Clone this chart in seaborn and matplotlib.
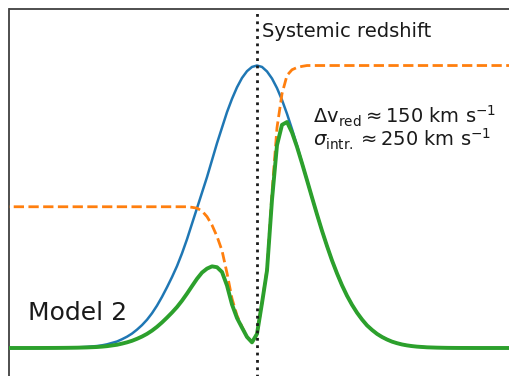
import matplotlib
matplotlib.use("Agg")
import matplotlib.pyplot as plt
import seaborn as sns
import pandas as pd

# velocity grid (km/s) relative to systemic redshift
velocity = [-1400, -1350, -1300, -1250, -1200, -1150, -1100, -1050, -1000, -950, -900, -850,
            -800, -775, -750, -725, -700, -675, -650, -625, -600, -575, -550, -525,
            -500, -475, -450, -425, -400, -375, -350, -325, -300, -275, -250, -225,
            -200, -175, -150, -125, -100, -75, -50, -25, 0, 25, 50, 75,
            100, 125, 150, 175, 200, 225, 250, 275, 300, 325, 350, 375,
            400, 425, 450, 475, 500, 525, 550, 575, 600, 625, 650, 675,
            700, 725, 750, 775, 800, 850, 900, 950, 1000, 1050, 1100, 1150,
            1200, 1250, 1300, 1350, 1400]

# intrinsic line profile (blue)
intrinsic = [0, 0, 0, 0, 0, 0, 0.0001, 0.0003, 0.0006, 0.0012, 0.0022, 0.004,
             0.007, 0.0095, 0.013, 0.018, 0.023, 0.031, 0.04, 0.051, 0.065, 0.081, 0.10, 0.123,
             0.15, 0.181, 0.215, 0.251, 0.29, 0.335, 0.385, 0.44, 0.495, 0.55, 0.605, 0.665,
             0.725, 0.78, 0.835, 0.882, 0.923, 0.956, 0.98, 0.995, 1.0, 0.995, 0.979, 0.954,
             0.92, 0.878, 0.829, 0.775, 0.717, 0.656, 0.594, 0.533, 0.473, 0.415, 0.361, 0.31,
             0.264, 0.222, 0.185, 0.153, 0.125, 0.101, 0.08, 0.064, 0.05, 0.039, 0.03, 0.0225,
             0.017, 0.0125, 0.0092, 0.0067, 0.0048, 0.0024, 0.0012, 0.0005, 0.0002, 0.0001, 0, 0,
             0, 0, 0, 0, 0]

# IGM transmission (orange dashed)
transmission = [0.5, 0.5, 0.5, 0.5, 0.5, 0.5, 0.5, 0.5, 0.5, 0.5, 0.5, 0.5,
                0.5, 0.5, 0.5, 0.5, 0.5, 0.5, 0.5, 0.5, 0.5, 0.5, 0.5, 0.5,
                0.5, 0.5, 0.5, 0.5, 0.5, 0.5, 0.5, 0.498, 0.495, 0.485, 0.465, 0.435,
                0.395, 0.345, 0.265, 0.175, 0.115, 0.075, 0.04, 0.02, 0.05, 0.16, 0.28, 0.55,
                0.78, 0.90, 0.965, 0.985, 0.993, 0.997, 1.0, 1.0, 1.0, 1.0, 1.0, 1.0,
                1.0, 1.0, 1.0, 1.0, 1.0, 1.0, 1.0, 1.0, 1.0, 1.0, 1.0, 1.0,
                1.0, 1.0, 1.0, 1.0, 1.0, 1.0, 1.0, 1.0, 1.0, 1.0, 1.0, 1.0,
                1.0, 1.0, 1.0, 1.0, 1.0]

# observed profile (green)
observed = [0, 0, 0, 0, 0, 0, 0.00005, 0.00015, 0.0003, 0.0006, 0.0011, 0.002,
            0.0035, 0.0048, 0.0065, 0.009, 0.0115, 0.0155, 0.02, 0.0255, 0.0325, 0.0405, 0.05, 0.0615,
            0.075, 0.0905, 0.1075, 0.1255, 0.145, 0.1675, 0.1925, 0.219, 0.245, 0.267, 0.281, 0.289,
            0.286, 0.269, 0.221, 0.154, 0.106, 0.072, 0.039, 0.02, 0.05, 0.159, 0.274, 0.525,
            0.718, 0.79, 0.80, 0.763, 0.712, 0.654, 0.594, 0.533, 0.473, 0.415, 0.361, 0.31,
            0.264, 0.222, 0.185, 0.153, 0.125, 0.101, 0.08, 0.064, 0.05, 0.039, 0.03, 0.0225,
            0.017, 0.0125, 0.0092, 0.0067, 0.0048, 0.0024, 0.0012, 0.0005, 0.0002, 0.0001, 0, 0,
            0, 0, 0, 0, 0]

label_sys = "Systemic redshift"
label_model = "Model 2"
label_dv = r"$\Delta\mathrm{v}_{\rm red} \approx 150$ km s$^{-1}$"
label_sig = r"$\sigma_{\rm intr.} \approx 250$ km s$^{-1}$"

df = pd.DataFrame({"v": velocity, "intr": intrinsic, "trans": transmission, "obs": observed})

sns.set_style("white")
plt.rcParams["font.family"] = ["DejaVu Sans"]

fig = plt.figure(figsize=(5.1, 3.76), dpi=100)
ax = fig.add_axes([9.5 / 510, -0.05, 1.0206, 1.026])

sns.lineplot(data=df, x="v", y="intr", ax=ax, color="#1f77b4", lw=1.8, zorder=2)
sns.lineplot(data=df, x="v", y="trans", ax=ax, color="#ff7f0e", lw=2.0, ls="--", zorder=3)
sns.lineplot(data=df, x="v", y="obs", ax=ax, color="#2ca02c", lw=2.8, zorder=4)
ax.axvline(0, color="0.1", ls=":", lw=2.0, zorder=5)

ax.set_xlim(-1237.5, 1365)
ax.set_ylim(-0.1657, 1.2)
ax.set_xticks([])
ax.set_yticks([])
ax.set_xlabel("")
ax.set_ylabel("")
for s in ax.spines.values():
    s.set_color("0.25")
    s.set_linewidth(1.3)

ax.text(25, 1.101, label_sys, fontsize=14, ha="left", va="baseline", color="0.1")
ax.text(280, 0.796, label_dv, fontsize=14, ha="left", va="baseline", color="0.1")
ax.text(280, 0.712, label_sig, fontsize=14, ha="left", va="baseline", color="0.1")
ax.text(-1145, 0.099, label_model, fontsize=18, ha="left", va="baseline", color="0.1")

fig.savefig("out.png", dpi=100)
